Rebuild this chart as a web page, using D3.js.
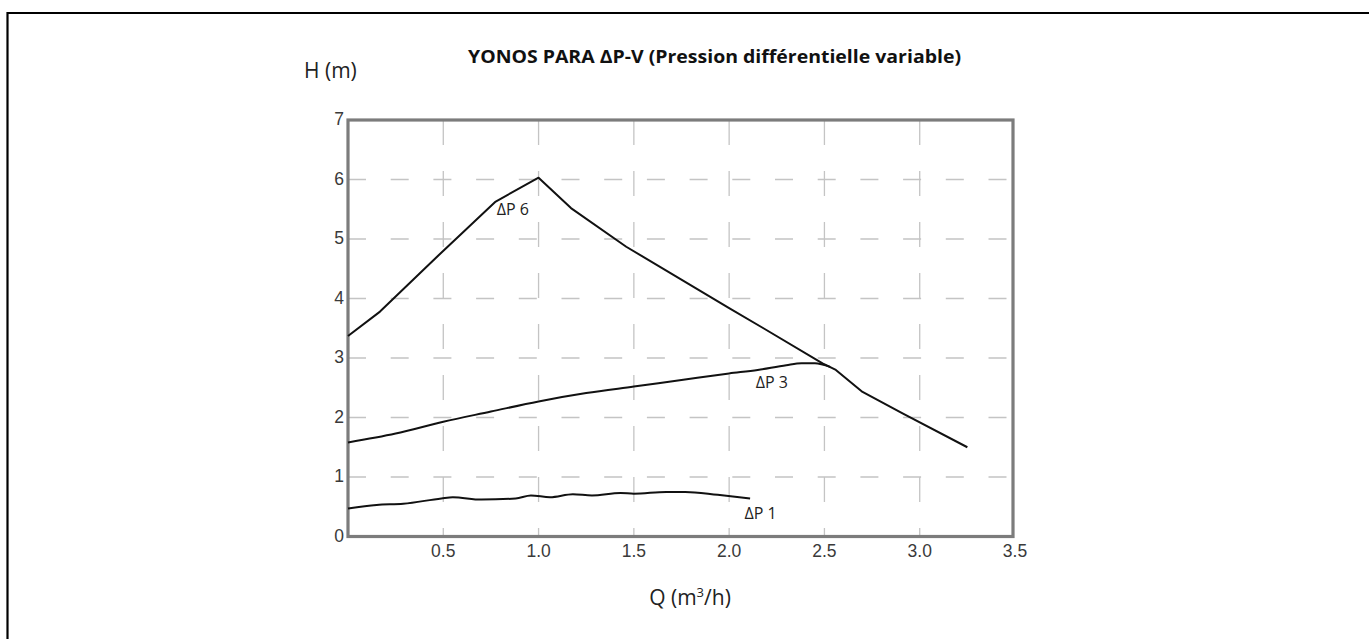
<!DOCTYPE html>
<html>
<head>
<meta charset="utf-8">
<script src="https://cdn.jsdelivr.net/npm/d3@7/dist/d3.min.js"></script>
<style>
  html, body { margin: 0; padding: 0; background: #fff; }
  svg { display: block; }
</style>
</head>
<body>
<svg id="chart" width="1369" height="639"></svg>
<script>
// ---- data ----
const chartTitle = "YONOS PARA ΔP-V (Pression différentielle variable)";
const yAxisTitle = "H (m)";
const xTicks = [0.5, 1.0, 1.5, 2.0, 2.5, 3.0, 3.5];
const xTickLabels = ["0.5", "1.0", "1.5", "2.0", "2.5", "3.0", "3.5"];
const yTicks = [0, 1, 2, 3, 4, 5, 6, 7];
const yTickLabels = ["0", "1", "2", "3", "4", "5", "6", "7"];

const dp6Q = [0, 0.168, 0.47, 0.775, 1.0, 1.17, 1.46, 2.0, 2.18, 2.49, 2.56, 2.70, 2.91, 3.25];
const dp6H = [3.37, 3.78, 4.71, 5.63, 6.03, 5.52, 4.87, 3.84, 3.50, 2.91, 2.80, 2.43, 2.07, 1.50];

const dp3Q = [0, 0.25, 0.5, 0.75, 1.0, 1.25, 1.5, 1.75, 2.0, 2.15, 2.3, 2.38, 2.45, 2.53];
const dp3H = [1.58, 1.73, 1.93, 2.10, 2.27, 2.41, 2.52, 2.63, 2.74, 2.80, 2.88, 2.91, 2.91, 2.85];

const dp1Q = [0, 0.15, 0.29, 0.49, 0.55, 0.70, 0.88, 0.96, 1.06, 1.18, 1.28, 1.43, 1.50, 1.67, 1.77, 1.94, 2.11];
const dp1H = [0.47, 0.53, 0.55, 0.64, 0.66, 0.62, 0.64, 0.69, 0.66, 0.71, 0.69, 0.73, 0.72, 0.75, 0.75, 0.70, 0.64];

const curveNames = ["ΔP 6", "ΔP 3", "ΔP 1"];
const labelQ = [0.78, 2.14, 2.08];
const labelH = [5.4, 2.5, 0.3];

// ---- layout ----
const svg = d3.select("#chart");
const x = d3.scaleLinear().domain([0, 3.5]).range([348, 1015]);
const y = d3.scaleLinear().domain([0, 7]).range([536.5, 120]);

// outer frame (top and left lines)
svg.append("line").attr("x1", 7).attr("x2", 1369).attr("y1", 13).attr("y2", 13)
  .attr("stroke", "#000").attr("stroke-width", 2.2);
svg.append("line").attr("x1", 7.5).attr("x2", 7.5).attr("y1", 12).attr("y2", 639)
  .attr("stroke", "#000").attr("stroke-width", 2.2);

// grid
const g = svg.append("g");
g.selectAll(".hgrid").data(yTicks.filter(v => v > 0 && v < 7)).join("line")
  .attr("x1", x(0)).attr("x2", x(3.5))
  .attr("y1", d => y(d)).attr("y2", d => y(d))
  .attr("stroke", "#c4c4c4").attr("stroke-width", 1.3)
  .attr("stroke-dasharray", "18,24.7");
g.selectAll(".vgrid").data(xTicks.filter(v => v < 3.5)).join("line")
  .attr("x1", d => x(d)).attr("x2", d => x(d))
  .attr("y1", y(7)).attr("y2", y(0))
  .attr("stroke", "#c4c4c4").attr("stroke-width", 1.3)
  .attr("stroke-dasharray", "25,26");

// plot frame
g.append("rect")
  .attr("x", x(0)).attr("y", y(7))
  .attr("width", x(3.5) - x(0) - 2).attr("height", y(0) - y(7))
  .attr("fill", "none").attr("stroke", "#7c7c7c").attr("stroke-width", 3.2);

// tick labels
g.selectAll(".ylab").data(yTicks).join("text")
  .attr("x", x(0) - 4).attr("y", d => y(d) + 5)
  .attr("text-anchor", "end")
  .attr("font-family", "'Liberation Sans', Arial, sans-serif")
  .attr("font-size", 17.5).attr("fill", "#3a3a3a")
  .text((d, i) => yTickLabels[i]);
g.selectAll(".xlab").data(xTicks).join("text")
  .attr("x", d => x(d)).attr("y", y(0) + 20)
  .attr("text-anchor", "middle")
  .attr("font-family", "'Liberation Sans', Arial, sans-serif")
  .attr("font-size", 17.5).attr("fill", "#3a3a3a")
  .text((d, i) => xTickLabels[i]);

// curves
const series = [
  { q: dp6Q, h: dp6H, curve: d3.curveLinear },
  { q: dp3Q, h: dp3H, curve: d3.curveMonotoneX },
  { q: dp1Q, h: dp1H, curve: d3.curveMonotoneX }
];
series.forEach(s => {
  const pts = s.q.map((q, i) => [q, s.h[i]]);
  const line = d3.line().x(d => x(d[0])).y(d => y(d[1])).curve(s.curve);
  g.append("path").attr("d", line(pts))
    .attr("fill", "none").attr("stroke", "#111").attr("stroke-width", 2)
    .attr("stroke-linejoin", "round");
});

// curve labels
g.selectAll(".clab").data(curveNames).join("text")
  .attr("x", (d, i) => x(labelQ[i]))
  .attr("y", (d, i) => y(labelH[i]))
  .attr("font-family", "'Open Sans', sans-serif")
  .attr("font-size", 16).attr("fill", "#222")
  .text(d => d);

// titles
svg.append("text").attr("x", 468).attr("y", 63)
  .attr("font-family", "'Liberation Sans Narrow', 'Open Sans', sans-serif")
  .attr("font-weight", "bold").attr("font-size", 18).attr("fill", "#111")
  .attr("textLength", 493).attr("lengthAdjust", "spacingAndGlyphs")
  .text(chartTitle);

svg.append("text").attr("x", 304).attr("y", 78)
  .attr("font-family", "'Open Sans', sans-serif")
  .attr("font-size", 21).attr("fill", "#222")
  .text(yAxisTitle);

const qt = svg.append("text").attr("x", 690).attr("y", 605)
  .attr("text-anchor", "middle")
  .attr("font-family", "'Open Sans', sans-serif")
  .attr("font-size", 21).attr("fill", "#222");
qt.append("tspan").text("Q (m");
qt.append("tspan").attr("font-size", 13).attr("dy", -8).text("3");
qt.append("tspan").attr("dy", 8).text("/h)");
</script>
</body>
</html>
